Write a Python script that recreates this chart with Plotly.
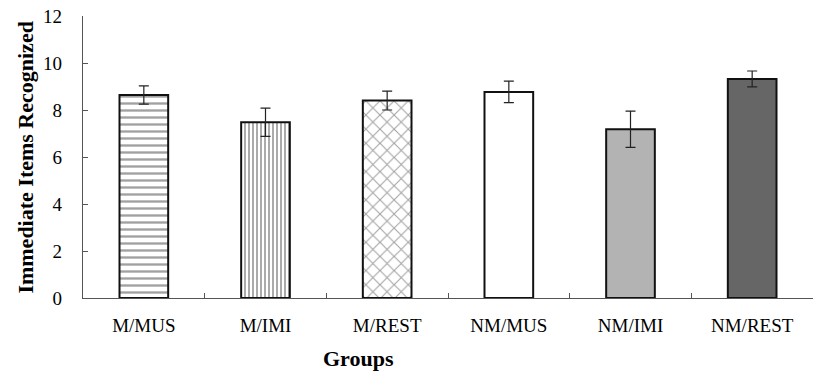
import plotly.graph_objects as go

# Groups and mean immediate recognition scores with their error bars
groups = ["M/MUS", "M/IMI", "M/REST", "NM/MUS", "NM/IMI", "NM/REST"]
means = [8.64, 7.48, 8.40, 8.77, 7.18, 9.32]
errors = [0.39, 0.60, 0.40, 0.46, 0.77, 0.34]
y_ticks = [0, 2, 4, 6, 8, 10, 12]

# Fill style per bar
fill_colors = ["#ffffff", "#ffffff", "#ffffff", "#ffffff", "#b3b3b3", "#666666"]
pattern_shapes = ["-", "|", "x", "", "", ""]
pattern_sizes = [7, 4, 10, 8, 8, 8]
pattern_solidity = [0.34, 0.45, 0.2, 0.3, 0.3, 0.3]

serif = "Liberation Serif, Times New Roman, serif"

fig = go.Figure(
    go.Bar(
        x=groups,
        y=means,
        width=0.4,
        marker=dict(
            color=fill_colors,
            line=dict(color="#111111", width=2),
            pattern=dict(
                shape=pattern_shapes,
                size=pattern_sizes,
                solidity=pattern_solidity,
                fgcolor="#000000",
                bgcolor=fill_colors,
            ),
        ),
        error_y=dict(
            type="data",
            array=errors,
            visible=True,
            color="#222222",
            thickness=1.2,
            width=5,
        ),
        showlegend=False,
    )
)

fig.update_layout(
    width=813,
    height=373,
    margin=dict(l=83, r=0, t=16, b=75),
    paper_bgcolor="white",
    plot_bgcolor="white",
    font=dict(family=serif, color="black", size=19),
    annotations=[
        dict(
            text="<b>Immediate Items Recognized</b>",
            textangle=-90,
            xref="paper",
            yref="paper",
            x=-0.08,
            y=0.5,
            xanchor="center",
            yanchor="middle",
            showarrow=False,
            font=dict(family=serif, size=22, color="black"),
        ),
        dict(
            text="<b>Groups</b>",
            xref="paper",
            yref="paper",
            x=0.378,
            y=-0.214,
            xanchor="center",
            yanchor="middle",
            showarrow=False,
            font=dict(family=serif, size=22, color="black"),
        ),
    ],
)

fig.update_xaxes(
    type="category",
    range=[-0.5, 5.5],
    showline=True,
    linecolor="#555555",
    linewidth=1.3,
    ticks="inside",
    tickson="boundaries",
    ticklen=5,
    tickcolor="#555555",
    ticklabelstandoff=10,
    showgrid=False,
    zeroline=False,
    tickfont=dict(family=serif, size=19, color="black"),
)

fig.update_yaxes(
    range=[0, 12],
    tickvals=y_ticks,
    showline=True,
    linecolor="#555555",
    linewidth=1.3,
    ticks="inside",
    ticklen=5,
    tickcolor="#555555",
    ticklabelstandoff=16,
    showgrid=False,
    zeroline=False,
    tickfont=dict(family=serif, size=19, color="black"),
)

fig.write_html("out.html")
